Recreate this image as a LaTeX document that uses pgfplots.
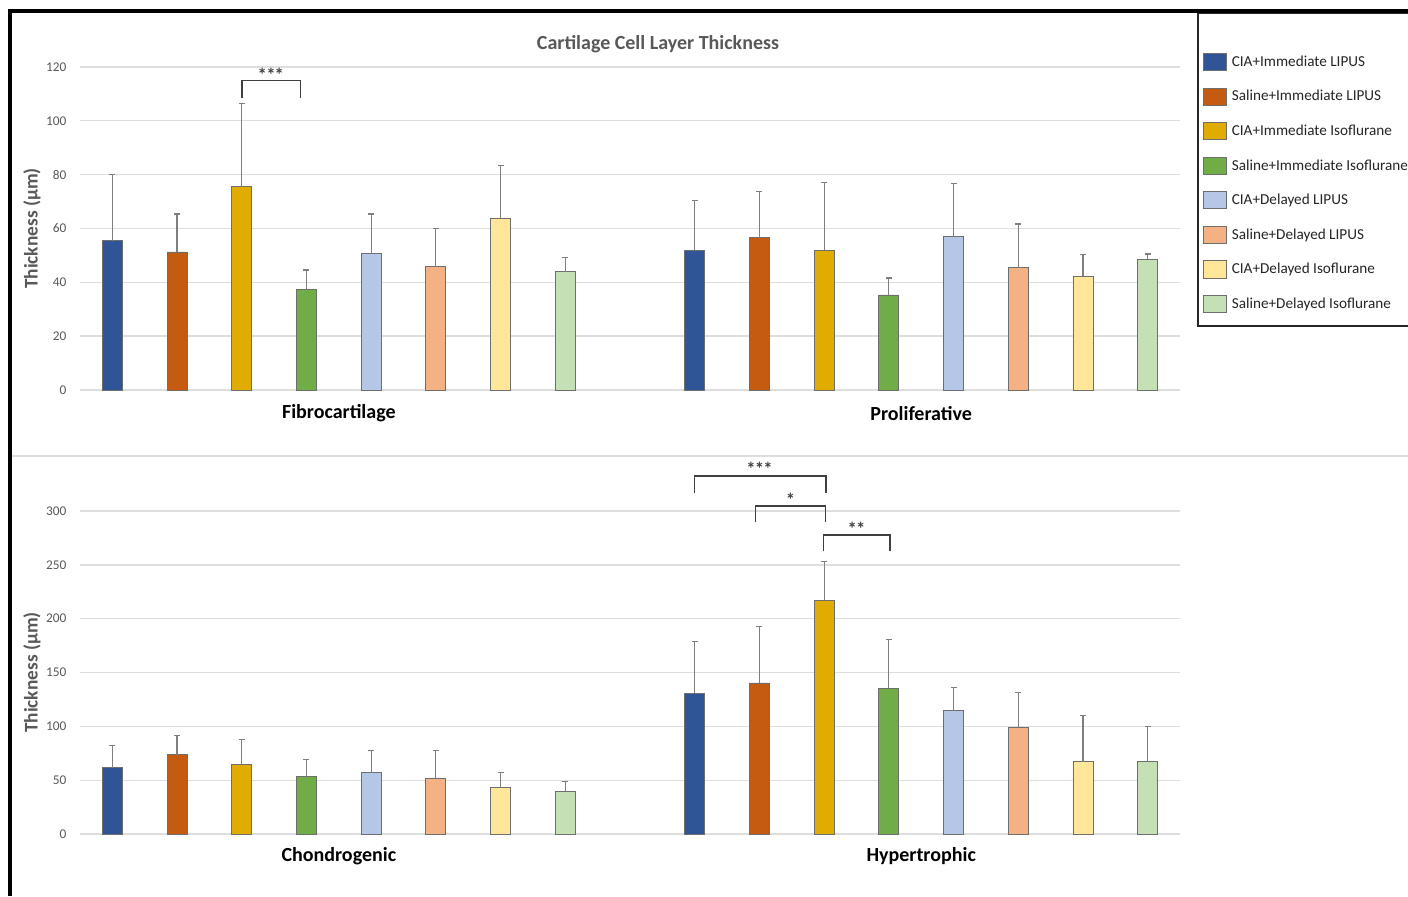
\documentclass[border=0pt]{standalone}
\usepackage{pgfplots}
\pgfplotsset{compat=1.18}
\usepackage{fontspec}
\setmainfont{Carlito}
\definecolor{c1}{HTML}{2F5597}
\definecolor{c2}{HTML}{C55A11}
\definecolor{c3}{HTML}{E1AC00}
\definecolor{c4}{HTML}{70AD47}
\definecolor{c5}{HTML}{B4C7E7}
\definecolor{c6}{HTML}{F4B183}
\definecolor{c7}{HTML}{FFE699}
\definecolor{c8}{HTML}{C5E0B4}
\definecolor{gridc}{HTML}{DEDEDE}
\definecolor{tickc}{HTML}{595959}
\definecolor{barc}{HTML}{6E6E6E}
\definecolor{errc}{HTML}{7F7F7F}
\definecolor{brkc}{HTML}{404040}
\newcommand{\st}{*\kern-0.6pt}
\tikzset{
  brk/.style={draw=brkc, line width=1.1pt},
  star/.style={font=\bfseries\fontsize{14}{15}\selectfont, text=brkc},
}
\pgfplotsset{
  panel/.style={
    at={(60pt,#1)}, anchor=south west, scale only axis,
    width=825pt, height=242.25pt,
    xmin=-0.5, xmax=16.5, ymin=0, clip=false,
    axis line style={draw=none}, major tick length=0pt,
    ymajorgrids, grid style={draw=gridc, line width=1pt},
    xtick={3.5,12.5},
    /pgf/number format/assume math mode=true,
    yticklabel style={font=\fontsize{10}{12}\selectfont, text=tickc, inner sep=0pt, anchor=east, xshift=-10pt},
    xticklabel style={font=\bfseries\fontsize{15}{17}\selectfont, text=black, anchor=center},
    ylabel={Thickness (µm)},
    every axis y label/.style={at={(axis description cs:-0.0436,0.5)}, rotate=90, anchor=center,
      font=\bfseries\fontsize{14.5}{16}\selectfont, text=tickc},
    ybar, bar width=15pt,
    every axis plot/.append style={
      bar shift=0pt, draw=barc, line width=0.6pt,
      legend image code/.code={\draw[##1, line width=0.6pt] (0pt,-6.4pt) rectangle (17.25pt,6.4pt);},
      error bars/y dir=plus, error bars/y explicit,
      error bars/error bar style={draw=errc, line width=0.9pt},
      error bars/error mark options={rotate=90, mark size=2.25pt, draw=errc, line width=0.9pt}
    },
  },
}
\begin{document}
\begin{tikzpicture}
\useasboundingbox[fill=white] (0,0) rectangle (1056pt,672pt);

% ---------- top panel ----------
\begin{axis}[panel=379.5pt,
  ymax=120, ytick={0,20,40,60,80,100,120},
  xticklabels={Fibrocartilage,Proliferative},
  xticklabel style={yshift=-17.6pt},
  legend style={at={(rel axis cs:1.0209,1.0426)}, anchor=north west, draw=none, fill=none,
    inner sep=0pt, outer sep=0pt, row sep=12.5pt, column sep=3.75pt,
    font=\fontsize{11.4}{13}\selectfont, nodes={inner sep=0pt, text=black!85}},
  legend cell align=left,
]
\addplot[fill=c1] coordinates {(0,55.4) +- (0,24.6) (9,52.0) +- (0,18.3)};
\addplot[fill=c2] coordinates {(1,51.3) +- (0,14.1) (10,56.6) +- (0,17.1)};
\addplot[fill=c3] coordinates {(2,75.5) +- (0,30.8) (11,52.0) +- (0,25.1)};
\addplot[fill=c4] coordinates {(3,37.2) +- (0,7.4) (12,35.3) +- (0,6.3)};
\addplot[fill=c5] coordinates {(4,50.6) +- (0,14.8) (13,57.0) +- (0,19.7)};
\addplot[fill=c6] coordinates {(5,45.8) +- (0,14.1) (14,45.4) +- (0,16.3)};
\addplot[fill=c7] coordinates {(6,63.9) +- (0,19.6) (15,42.3) +- (0,8.0)};
\addplot[fill=c8] coordinates {(7,43.9) +- (0,5.3) (16,48.6) +- (0,1.9)};
\legend{CIA+Immediate LIPUS,Saline+Immediate LIPUS,CIA+Immediate Isoflurane,Saline+Immediate Isoflurane,CIA+Delayed LIPUS,Saline+Delayed LIPUS,CIA+Delayed Isoflurane,Saline+Delayed Isoflurane}
\draw[brk] (axis cs:2,108.6) |- (axis cs:2.905,114.9) -- (axis cs:2.905,108.6);
\node[star] at (axis cs:2.45,117.0) {\st\st*};
\end{axis}

% ---------- bottom panel ----------
\begin{axis}[panel=46.5pt,
  ymax=300, ytick={0,50,100,150,200,250,300},
  xticklabels={Chondrogenic,Hypertrophic},
  xticklabel style={yshift=-16.4pt},
]
\addplot[fill=c1] coordinates {(0,61.7) +- (0,20.8) (9,130.6) +- (0,47.9)};
\addplot[fill=c2] coordinates {(1,73.6) +- (0,17.7) (10,140.3) +- (0,52.4)};
\addplot[fill=c3] coordinates {(2,64.9) +- (0,22.6) (11,217.0) +- (0,36.2)};
\addplot[fill=c4] coordinates {(3,53.3) +- (0,15.6) (12,135.3) +- (0,45.0)};
\addplot[fill=c5] coordinates {(4,56.8) +- (0,20.4) (13,114.5) +- (0,21.7)};
\addplot[fill=c6] coordinates {(5,52.1) +- (0,25.8) (14,99.3) +- (0,32.3)};
\addplot[fill=c7] coordinates {(6,43.1) +- (0,14.0) (15,67.3) +- (0,42.6)};
\addplot[fill=c8] coordinates {(7,39.7) +- (0,8.7) (16,67.3) +- (0,32.3)};
\draw[brk] (axis cs:9,316.6) |- (axis cs:11.03,332.4) -- (axis cs:11.03,316.6);
\node[star] at (axis cs:10.0,339) {\st\st*};
\draw[brk] (axis cs:9.94,289.6) |- (axis cs:11.02,304.5) -- (axis cs:11.02,289.6);
\node[star] at (axis cs:10.48,310.5) {*};
\draw[brk] (axis cs:10.99,262.6) |- (axis cs:12.02,277.5) -- (axis cs:12.02,262.6);
\node[star] at (axis cs:11.5,283.5) {\st*};
\end{axis}

% ---------- decorations (pixel units) ----------
\begin{scope}[x=0.75pt,y=0.75pt]
\node[font=\bfseries\fontsize{15}{17}\selectfont, text=tickc] at (658,852) {Cartilage Cell Layer Thickness};
\draw[draw=gridc, line width=1.4pt] (12,440) -- (1408,440);
\draw[black!85, line width=0.8pt] (1408,883) -- (1198,883) -- (1198,570) -- (1408,570);
\draw[black, line width=3pt] (9.5,0) -- (9.5,885) -- (1408,885);
\end{scope}
\end{tikzpicture}
\end{document}
